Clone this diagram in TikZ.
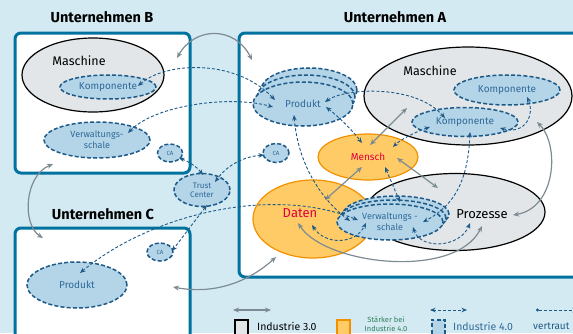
\documentclass[tikz,border=0pt]{standalone}
\usepackage{fontspec}
\setmainfont{Fira Sans}
\usetikzlibrary{shapes.geometric,arrows.meta,calc}
\definecolor{bgc}{HTML}{D4EAF3}
\definecolor{boxc}{HTML}{0072A0}
\definecolor{greyfill}{HTML}{E2E6E8}
\definecolor{bluefill}{HTML}{B4D4E8}
\definecolor{blueline}{HTML}{1D5A88}
\definecolor{bluetext}{HTML}{2F6A98}
\definecolor{orfill}{HTML}{FECB66}
\definecolor{orline}{HTML}{F29100}
\definecolor{redtext}{HTML}{E2003D}
\definecolor{greyarrow}{HTML}{7D8B93}
\definecolor{greentext}{HTML}{2E8059}
\begin{document}
\begin{tikzpicture}[x=1pt,y=-1pt,
  cbox/.style={draw=boxc, line width=3pt, fill=white, rounded corners=6pt, inner sep=0pt},
  title/.style={font=\fontsize{14.5}{16}\selectfont\bfseries, inner sep=0pt},
  gell/.style={ellipse, draw=black, line width=1.2pt, fill=greyfill, inner sep=0pt},
  bell/.style={ellipse, draw=blueline, line width=1.5pt, dash pattern=on 4pt off 2.2pt, fill=bluefill, inner sep=0pt, text=bluetext, align=center},
  oell/.style={ellipse, draw=orline, line width=1.2pt, fill=orfill, inner sep=0pt, text=redtext},
  lbl/.style={inner sep=0pt},
  garr/.style={draw=greyarrow, line width=1.2pt, {Stealth[length=6pt,width=5pt]}-{Stealth[length=6pt,width=5pt]}},
  barr/.style={draw=blueline, line width=0.9pt, dash pattern=on 3pt off 2pt, {Stealth[length=5.5pt,width=4.5pt]}-{Stealth[length=5.5pt,width=4.5pt]}},
  darr/.style={draw=blueline, line width=0.9pt, dash pattern=on 3pt off 2pt, {Circle[length=3pt]}-{Stealth[length=5.5pt,width=4.5pt]}}
]
\useasboundingbox (0,0) rectangle (573,333);
\fill[bgc] (0,0) rectangle (573,333);

% company boxes
\node[cbox, minimum width=175pt, minimum height=140pt] (boxB) at (102.5,103) {};
\node[cbox, minimum width=361pt, minimum height=244pt] (boxA) at (419.5,155) {};
\node[cbox, minimum width=175pt, minimum height=132pt] (boxC) at (102.5,294) {};
\node[title] (tB) at (102,17) {Unternehmen B};
\node[title] (tA) at (395,17) {Unternehmen A};
\node[title] (tC) at (103,214) {Unternehmen C};

% Unternehmen B
\node[gell, minimum width=142pt, minimum height=74pt] (maschB) at (93,75) {};
\node[lbl, font=\fontsize{12.5}{14}\selectfont] (maschBt) at (79,61) {Maschine};
\node[bell, minimum width=96pt, minimum height=24pt, font=\fontsize{10}{11}\selectfont] (kompB) at (108,87) {Komponente};
\node[bell, minimum width=106pt, minimum height=36pt, font=\fontsize{9}{11}\selectfont] (vsB) at (97,140) {Verwaltungs-\\schale};
\node[bell, minimum width=25pt, minimum height=18pt, font=\fontsize{6}{7}\selectfont] (caB) at (170,153) {CA};

% Trust center and CAs
\node[bell, minimum width=56pt, minimum height=33pt, font=\fontsize{8}{9}\selectfont] (tc) at (202,190) {Trust\\Center};
\node[bell, minimum width=26pt, minimum height=19pt, font=\fontsize{6}{7}\selectfont] (caA) at (276,153) {CA};
\node[bell, minimum width=26pt, minimum height=18pt, font=\fontsize{6}{7}\selectfont] (caC) at (160,252) {CA};

% Unternehmen C
\node[bell, minimum width=100pt, minimum height=46pt, font=\fontsize{10}{11}\selectfont] (prodC) at (77,285) {Produkt};

% Unternehmen A
\node[gell, minimum width=208pt, minimum height=98pt] (maschA) at (468,96) {};
\node[lbl, font=\fontsize{12.5}{14}\selectfont] (maschAt) at (430,71) {Maschine};
\node[bell, minimum width=106pt, minimum height=30pt, font=\fontsize{10}{11}\selectfont] (kompA1) at (507,90) {Komponente};
\node[bell, minimum width=106pt, minimum height=29pt, font=\fontsize{10}{11}\selectfont] (kompA2) at (465,122) {Komponente};

\node[bell, minimum width=96pt, minimum height=44pt] (prodA3) at (309,90) {};
\node[bell, minimum width=98pt, minimum height=44pt] (prodA2) at (306,97) {};
\node[bell, minimum width=100pt, minimum height=44pt, font=\fontsize{10}{11}\selectfont] (prodA) at (303,104) {Produkt};

\node[oell, minimum width=100pt, minimum height=46pt, font=\fontsize{10}{11}\selectfont] (mensch) at (368,157) {Mensch};
\node[oell, minimum width=120pt, minimum height=78pt] (daten) at (313,219) {};
\node[lbl, text=redtext, font=\fontsize{13}{14}\selectfont] (datent) at (300,213) {Daten};
\node[gell, minimum width=180pt, minimum height=77pt] (proz) at (455,212) {};
\node[lbl, font=\fontsize{13}{14}\selectfont] (prozt) at (482,214) {Prozesse};

\node[bell, minimum width=106pt, minimum height=36pt] (vsA3) at (396,214) {};
\node[bell, minimum width=106pt, minimum height=36pt] (vsA2) at (393,218) {};
\node[bell, minimum width=106pt, minimum height=36pt, font=\fontsize{9}{11}\selectfont] (vsA) at (390,222) {Verwaltungs -\\schale};

% grey (Industrie 3.0) connectors
\draw[garr] ($(boxB)+(74.5,-45)$) .. controls (195,26) and (235,26) .. ($(boxA)+(-167.5,-95)$);
\draw[garr] ($(boxB)+(-49.5,61)$) .. controls (24,176) and (22,225) .. ($(boxC)+(-59.5,-56)$);
\draw[garr] ($(boxC)+(70.5,-7)$) .. controls (210,294) and (245,285) .. ($(boxA)+(-143.5,102)$);
\draw[garr] ($(mensch)+(-6,10)$) -- ($(daten)+(12,-19)$);
\draw[garr] ($(mensch)+(29,1)$) -- ($(proz)+(-17,-24)$);
\draw[garr] ($(maschA)+(-61,12)$) -- ($(mensch)+(2,-12)$);
\draw[garr] ($(maschA)+(69,26)$) .. controls (560,145) and (556,208) .. ($(proz)+(58,3)$);
\draw[garr] ($(daten)+(-15,4)$) .. controls (325,265) and (455,280) .. ($(proz)+(27,14)$);

% blue dashed (Industrie 4.0) connectors
\draw[barr] ($(kompB)+(30,-1)$) .. controls (165,62) and (235,58) .. ($(prodA)+(-28,-4)$);
\draw[barr] ($(vsB)+(31,-7)$) .. controls (155,105) and (230,95) .. ($(prodA)+(-30,3)$);
\draw[barr] ($(prodA)+(22,-2)$) .. controls (345,88) and (415,84) .. ($(kompA2)+(-20,-4)$);
\draw[barr] ($(prodA)+(23,3)$) .. controls (340,118) and (352,130) .. ($(mensch)+(-6,-14)$);
\draw[barr] ($(prodA)+(-9,11)$) .. controls (298,165) and (322,200) .. ($(vsA)+(-40,-1)$);
\draw[barr] ($(daten)+(-1,6)$) .. controls (325,245) and (355,245) .. ($(vsA)+(-24,1)$);
\draw[barr] ($(prodC)+(3,-12)$) .. controls (150,215) and (270,185) .. ($(vsA)+(-32,-2)$);
\draw[barr] ($(kompA2)+(35,6)$) .. controls (525,135) and (535,115) .. ($(kompA1)+(20,7)$);
\draw[barr] ($(kompA2)+(5,10)$) .. controls (468,180) and (455,205) .. ($(vsA)+(33,0)$);
\draw[barr] ($(kompA2)+(-35,5)$) .. controls (415,132) and (400,140) .. ($(mensch)+(25,-10)$);
\draw[barr] ($(mensch)+(17,10)$) -- ($(vsA)+(10,-20)$);
\draw[barr] ($(vsA)+(23,5)$) .. controls (420,250) and (460,248) .. ($(proz)+(15,11)$);
\draw[barr] ($(caB)+(9,5)$) .. controls (190,162) and (198,168) .. ($(tc)+(1,-15)$);
\draw[barr] ($(caA)+(-12,2)$) .. controls (240,157) and (225,168) .. ($(tc)+(13,-8)$);
\draw[barr] ($(tc)+(5,15)$) -- ($(caC)+(12,-1)$);

% legend
\coordinate (lg1a) at (233,310); \coordinate (lg1b) at (271,310);
\draw[garr] (lg1a) -- (lg1b);
\node[draw=black, line width=1.5pt, fill=greyfill, minimum width=13pt, minimum height=20pt, inner sep=0pt, anchor=north west] (lsq1) at (234,319) {};
\node[lbl, anchor=west, font=\fontsize{10.5}{12}\selectfont] (lt1) at (257,326) {Industrie 3.0};
\node[draw=orline, line width=1.5pt, fill=orfill, minimum width=13pt, minimum height=20pt, inner sep=0pt, anchor=north west] (lsq2) at (336,319) {};
\node[lbl, text=greentext, align=center, font=\fontsize{7.5}{8.5}\selectfont] (lt2) at (386,324) {Stärker bei\\Industrie 4.0};
\coordinate (lg3a) at (430,310); \coordinate (lg3b) at (467,310);
\draw[barr] (lg3a) -- (lg3b);
\node[draw=blueline, line width=1.5pt, dash pattern=on 4pt off 2.2pt, fill=bluefill, minimum width=13pt, minimum height=20pt, inner sep=0pt, anchor=north west] (lsq3) at (431,319) {};
\node[lbl, anchor=west, text=bluetext, font=\fontsize{10.5}{12}\selectfont] (lt3) at (453,326) {Industrie 4.0};
\coordinate (lg4a) at (536,310); \coordinate (lg4b) at (578,310);
\draw[darr] (lg4a) -- (lg4b);
\node[lbl, anchor=west, text=blueline, font=\fontsize{10}{12}\selectfont] (lt4) at (533,326) {vertraut};
\end{tikzpicture}
\end{document}
